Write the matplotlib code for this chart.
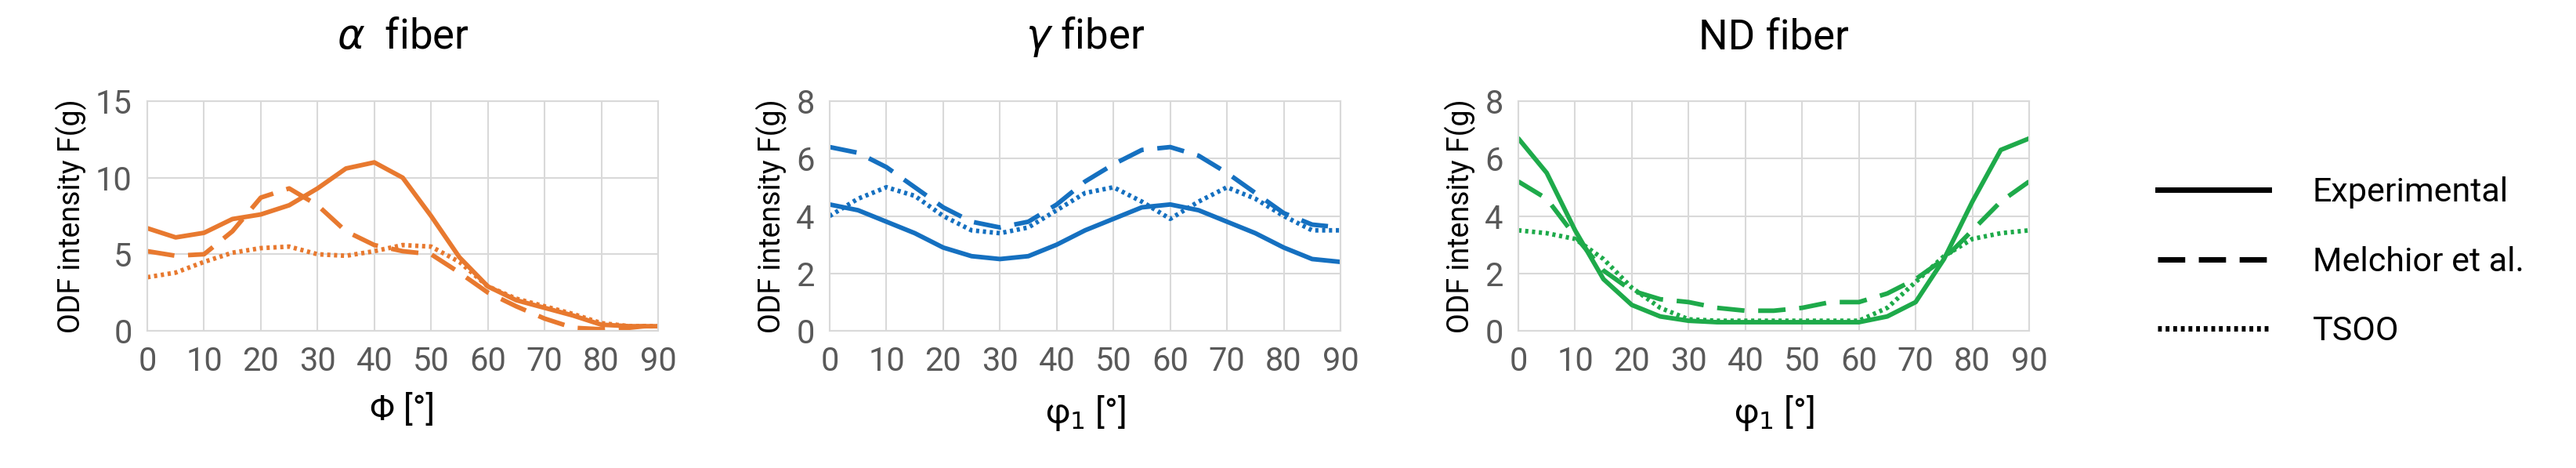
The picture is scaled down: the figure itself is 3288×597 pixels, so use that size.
import matplotlib
matplotlib.use('Agg')
import matplotlib.pyplot as plt
from matplotlib.lines import Line2D

plt.rcParams['font.family'] = ['Roboto', 'DejaVu Sans']

angles = [0, 5, 10, 15, 20, 25, 30, 35, 40, 45, 50, 55, 60, 65, 70, 75, 80, 85, 90]

alpha_exp = [6.7, 6.1, 6.4, 7.3, 7.6, 8.2, 9.3, 10.6, 11.0, 10.0, 7.5, 4.8, 2.9, 2.0, 1.5, 1.0, 0.4, 0.3, 0.3]
alpha_mel = [5.2, 4.9, 5.0, 6.5, 8.7, 9.3, 8.2, 6.5, 5.6, 5.2, 5.0, 3.8, 2.5, 1.6, 0.8, 0.2, 0.1, 0.2, 0.4]
alpha_tsoo = [3.5, 3.8, 4.5, 5.1, 5.4, 5.5, 5.0, 4.9, 5.2, 5.6, 5.5, 4.5, 2.9, 2.1, 1.6, 1.1, 0.5, 0.3, 0.3]

gamma_exp = [4.4, 4.2, 3.8, 3.4, 2.9, 2.6, 2.5, 2.6, 3.0, 3.5, 3.9, 4.3, 4.4, 4.2, 3.8, 3.4, 2.9, 2.5, 2.4]
gamma_mel = [6.4, 6.2, 5.7, 5.0, 4.3, 3.8, 3.6, 3.8, 4.4, 5.2, 5.8, 6.3, 6.4, 6.1, 5.5, 4.8, 4.1, 3.7, 3.6]
gamma_tsoo = [4.0, 4.6, 5.0, 4.7, 4.0, 3.5, 3.4, 3.6, 4.2, 4.8, 5.0, 4.5, 3.9, 4.5, 5.0, 4.6, 4.0, 3.5, 3.5]

nd_exp = [6.7, 5.5, 3.5, 1.8, 0.9, 0.5, 0.35, 0.3, 0.3, 0.3, 0.3, 0.3, 0.3, 0.5, 1.0, 2.5, 4.5, 6.3, 6.7]
nd_mel = [5.2, 4.6, 3.3, 2.1, 1.4, 1.1, 1.0, 0.8, 0.7, 0.7, 0.8, 1.0, 1.0, 1.3, 1.8, 2.5, 3.5, 4.5, 5.2]
nd_tsoo = [3.5, 3.4, 3.2, 2.5, 1.5, 0.8, 0.4, 0.35, 0.35, 0.35, 0.35, 0.35, 0.35, 0.8, 1.7, 2.6, 3.2, 3.4, 3.5]

panels = [
    ('$\\alpha$  fiber', 'Φ [°]', '#E8792F', 15, 5, alpha_exp, alpha_mel, alpha_tsoo),
    ('$\\gamma$ fiber', 'φ$_1$ [°]', '#1570C0', 8, 2, gamma_exp, gamma_mel, gamma_tsoo),
    ('ND fiber', 'φ$_1$ [°]', '#1EAA4A', 8, 2, nd_exp, nd_mel, nd_tsoo),
]
lefts = [188, 1059, 1938]
width = 652

fig = plt.figure(figsize=(32.88, 5.97), dpi=100)
lw = 4.2
dash = (0, (6, 3))
dot = (0, (0.7, 0.8))

for (title, xlab, col, ymax, ystep, e, m, t), l in zip(panels, lefts):
    ax = fig.add_axes([l / 3288, (597 - 422) / 597, width / 3288, 293 / 597])
    ax.plot(angles, e, color=col, lw=lw, solid_capstyle='round')
    ax.plot(angles, m, color=col, lw=lw, linestyle=dash)
    ax.plot(angles, t, color=col, lw=lw, linestyle=dot)
    ax.set_xlim(0, 90)
    ax.set_ylim(0, ymax)
    ax.set_xticks(range(0, 91, 10))
    ax.set_yticks(range(0, ymax + 1, ystep))
    ax.grid(True, color='#D9D9D9', lw=1.5)
    ax.set_axisbelow(True)
    for s in ax.spines.values():
        s.set_color('#D9D9D9')
        s.set_linewidth(1.5)
    ax.tick_params(length=0, labelsize=30, colors='#595959', pad=14)
    ax.set_ylabel('ODF intensity F(g)', fontsize=27, labelpad=8)
    ax.set_xlabel(xlab, fontsize=32, labelpad=14)
    ax.set_title(title, fontsize=38, pad=48)

handles = [Line2D([], [], color='black', lw=5),
           Line2D([], [], color='black', lw=5, linestyle=(0, (5, 2.5))),
           Line2D([], [], color='black', lw=5, linestyle=(0, (0.7, 0.7)))]
fig.legend(handles, ['Experimental', 'Melchior et al.', 'TSOO'], loc='center left',
           bbox_to_anchor=(2715 / 3288, 0.44), frameon=False, fontsize=31,
           handlelength=3.3, handletextpad=1.3, labelspacing=1.1)

fig.savefig('out.png', dpi=100, facecolor='white')
